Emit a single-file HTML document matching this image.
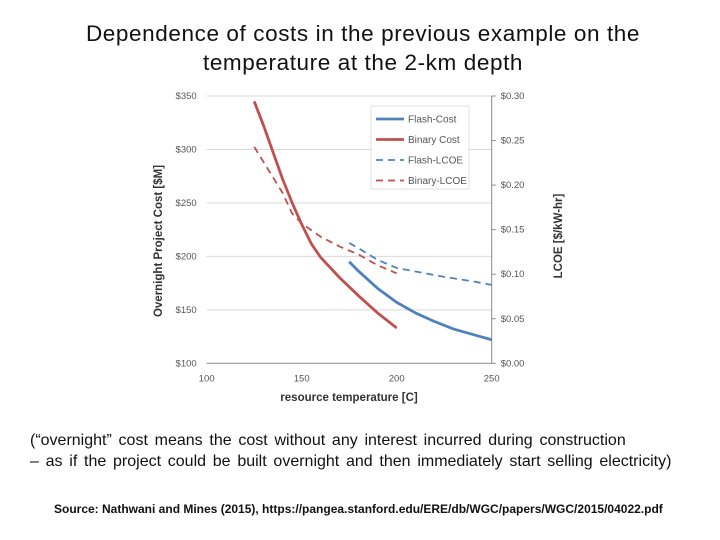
<!DOCTYPE html>
<html><head><meta charset="utf-8"><style>
body{margin:0;background:#fff;width:720px;height:540px;overflow:hidden;font-family:"Liberation Sans",sans-serif}
.t{position:absolute;left:0;width:726px;text-align:center;font-size:22.5px;letter-spacing:0.6px;color:#111;line-height:29px}
</style></head><body>
<div class="t" style="top:19px">Dependence of costs in the previous example on the<br>temperature at the 2-km depth</div>
<svg id="c" width="720" height="420" style="position:absolute;left:0;top:0"></svg>
<div style="position:absolute;left:30px;top:430px;font-size:16px;word-spacing:2.3px;line-height:21px;color:#111;white-space:nowrap">(“overnight” cost means the cost without any interest incurred during construction<br>– as if the project could be built overnight and then immediately start selling electricity)</div>
<div style="position:absolute;left:54px;top:502px;font-size:12px;font-weight:bold;color:#111;white-space:nowrap">Source: Nathwani and Mines (2015), https://pangea.stanford.edu/ERE/db/WGC/papers/WGC/2015/04022.pdf</div>
<script>
const xTicks=[100,150,200,250];
const yTicks=[100,150,200,250,300,350];
const yTickLabels=["$100","$150","$200","$250","$300","$350"];
const y2Ticks=[0,0.05,0.10,0.15,0.20,0.25,0.30];
const y2TickLabels=["$0.00","$0.05","$0.10","$0.15","$0.20","$0.25","$0.30"];
const binaryT=[125,130,135,140,145,150,155,160,170,180,190,200];
const binaryCost=[345,322,297,272,250,230,212,199,180,163,147,133];
const flashT=[175,180,190,200,210,220,230,240,250];
const flashCost=[195,186,170,157,147,139,132,127,122];
const binaryLT=[125,140,145,150,160,170,180,190,200];
const binaryLCOE=[0.243,0.191,0.168,0.157,0.142,0.131,0.122,0.110,0.101];
const flashLT=[175,180,190,200,210,225,240,250];
const flashLCOE=[0.135,0.129,0.116,0.107,0.103,0.097,0.092,0.088];
const L=206.7,R=491.7,T=96,B=363.3;
const X=v=>L+(v-100)/150*(R-L);
const Y=v=>B-(v-100)/250*(B-T);
const Y2=v=>B-v/0.30*(B-T);
const s=document.getElementById('c');const NS='http://www.w3.org/2000/svg';
function mk(tag,a,txt){const e=document.createElementNS(NS,tag);for(const k in a)e.setAttribute(k,a[k]);if(txt!=null)e.textContent=txt;s.appendChild(e);return e;}
yTicks.forEach((v,i)=>{
 const g=mk('line',{x1:L,x2:R,y1:Y(v),y2:Y(v),stroke:i==0?'#888':'#d9d9d9','stroke-width':1});
 
 const t=mk('text',{x:L-10,y:Y(v)+3,'text-anchor':'end','font-size':9.5,fill:'#555'},yTickLabels[i]);
 
});
y2Ticks.forEach((v,i)=>{
 const k=mk('line',{x1:R,x2:R+4,y1:Y2(v),y2:Y2(v),stroke:'#888'});
 
 const t=mk('text',{x:R+9,y:Y2(v)+3,'font-size':9.5,fill:'#555'},y2TickLabels[i]);
 
});
xTicks.forEach(v=>{
 const t=mk('text',{x:X(v),y:B+18,'text-anchor':'middle','font-size':9.5,fill:'#555'},String(v));
 
});
const ra=mk('line',{x1:R,x2:R,y1:T,y2:B,stroke:'#888'});

function series(xs,ys,f,col,dash,name){
 const p=mk('polyline',{points:xs.map((x,i)=>X(x)+','+f(ys[i])).join(' '),fill:'none',stroke:col,'stroke-width':dash?1.8:2.8,'stroke-dasharray':dash?'7,5':'none','stroke-linejoin':'round'});
 
}
series(binaryT,binaryCost,Y,'#c0504d',false,'binary-cost-line');
series(flashT,flashCost,Y,'#4f81bd',false,'flash-cost-line');
series(binaryLT,binaryLCOE,Y2,'#c0504d',true,'binary-lcoe-line');
series(flashLT,flashLCOE,Y2,'#4f81bd',true,'flash-lcoe-line');
const lb=mk('rect',{x:371,y:106,width:98,height:83,fill:'#fff',stroke:'#e0e0e0'});

[['Flash-Cost','#4f81bd',false],['Binary Cost','#c0504d',false],['Flash-LCOE','#4f81bd',true],['Binary-LCOE','#c0504d',true]].forEach((e,i)=>{
 const y=119+i*20.5;
 const l=mk('line',{x1:376,x2:404,y1:y,y2:y,stroke:e[1],'stroke-width':e[2]?1.8:2.8,'stroke-dasharray':e[2]?'7,5':'none'});
 
 const t=mk('text',{x:408,y:y+3.5,'font-size':10,fill:'#555'},e[0]);
 
});
const xt=mk('text',{x:349,y:401,'text-anchor':'middle','font-size':11.5,'font-weight':'bold',fill:'#333'},'resource temperature [C]');

const yt=mk('text',{x:0,y:0,'text-anchor':'middle','font-size':11.5,'font-weight':'bold',fill:'#333',transform:'translate(162,241) rotate(-90)'},'Overnight Project Cost [$M]');

const y2t=mk('text',{x:0,y:0,'text-anchor':'middle','font-size':11.5,'font-weight':'bold',fill:'#333',transform:'translate(562,236) rotate(-90)'},'LCOE [$/kW-hr]');

</script>
</body></html>
